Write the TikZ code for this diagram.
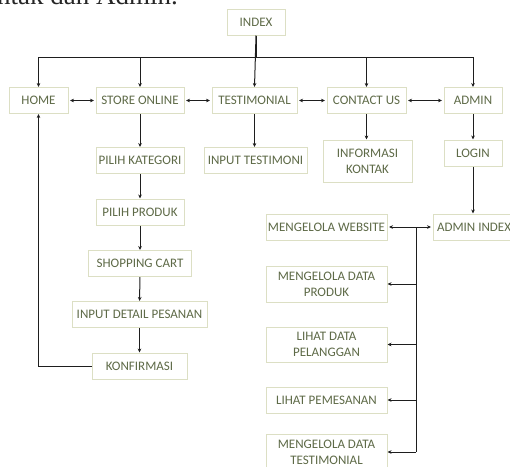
\documentclass[tikz,border=0pt]{standalone}
\usepackage{fontspec}
\setmainfont{Carlito}
\newfontfamily\bodyserif{Liberation Serif}
\usetikzlibrary{arrows.meta}
\definecolor{boxline}{HTML}{DCDFC4}
\definecolor{boxtext}{HTML}{5E6A47}
\definecolor{wire}{HTML}{1E1E1E}
\tikzset{
  box/.style={draw=boxline, line width=1pt, fill=white, text=boxtext,
    font=\fontsize{13}{16}\selectfont, inner sep=0pt, align=center,
    minimum height=26pt},
  link/.style={draw=wire, line width=1pt, -{Stealth[length=4pt,width=3.6pt]}},
  duo/.style={draw=wire, line width=1pt, {Stealth[length=4pt,width=3.6pt]}-{Stealth[length=4pt,width=3.6pt]},
    shorten <=1.5pt, shorten >=1.5pt},
  wireline/.style={draw=wire, line width=1pt}
}
\begin{document}
\begin{tikzpicture}[x=1pt,y=-1pt]
\useasboundingbox (0,0) rectangle (510,466);
\clip (0,0) rectangle (510,466);

% tail of the paragraph line above the chart
\node[anchor=base west, inner sep=0pt, text=black!85,
  font=\fontsize{27}{27}\selectfont\bodyserif] (para) at (-3,4) {ntak dan Admin.};

% top level
\node[box, minimum width=58pt] (index) at (256,22) {INDEX};

% main menu row
\node[box, minimum width=59pt] (home)    at (38.5,100.5)  {HOME};
\node[box, minimum width=88pt] (store)   at (140,100.5)   {STORE ONLINE};
\node[box, minimum width=85pt] (testi)   at (254.5,100.5) {TESTIMONIAL};
\node[box, minimum width=79pt] (contact) at (366.5,100.5) {CONTACT US};
\node[box, minimum width=58pt] (admin)   at (473,100.5)   {ADMIN};

% store flow
\node[box, minimum width=88pt]  (kategori) at (140,160.5) {PILIH KATEGORI};
\node[box, minimum width=88pt]  (produk)   at (140,212)   {PILIH PRODUK};
\node[box, minimum width=103pt] (cart)     at (140,263.5) {SHOPPING CART};
\node[box, minimum width=135pt] (detail)   at (139.5,314.5) {INPUT DETAIL PESANAN};
\node[box, minimum width=95pt]  (konfirm)  at (139.5,366) {KONFIRMASI};

% other branches
\node[box, minimum width=103pt] (inputtesti) at (255.5,160.5) {INPUT TESTIMONI};
\node[box, minimum width=89pt, minimum height=42pt] (info) at (367.5,161) {INFORMASI\\KONTAK};
\node[box, minimum width=58pt] (login) at (473,153) {LOGIN};

% admin area
\node[box, minimum width=82pt] (adminidx) at (474,227) {ADMIN INDEX};
\node[box, minimum width=121pt] (website) at (326.5,227) {MENGELOLA WEBSITE};
\node[box, minimum width=121pt, minimum height=36pt] (dataproduk) at (326.5,284) {MENGELOLA DATA\\PRODUK};
\node[box, minimum width=121pt, minimum height=35pt] (pelanggan) at (326.5,344.5) {LIHAT DATA\\PELANGGAN};
\node[box, minimum width=121pt] (pemesanan) at (326.5,400) {LIHAT PEMESANAN};
\node[box, minimum width=121pt, minimum height=36pt] (datatesti) at (326.5,452) {MENGELOLA DATA\\TESTIMONIAL};

% distribution bus from INDEX
\coordinate (bus) at (256,57);
\draw[wireline] (index.south) -- (bus);
\draw[wireline] (home.north |- bus) -- (admin.north |- bus);
\draw[link] (index.south) -- (testi.north);
\draw[link] (home.north |- bus) -- (home.north);
\draw[link] (store.north |- bus) -- (store.north);
\draw[link] (contact.north |- bus) -- (contact.north);
\draw[link] (admin.north |- bus) -- (admin.north);

% links along the menu row
\draw[duo] (home) -- (store);
\draw[duo] (store) -- (testi);
\draw[duo] (testi) -- (contact);
\draw[duo] (contact) -- (admin);

% downward flows
\draw[link] (store) -- (kategori);
\draw[link] (kategori) -- (produk);
\draw[link] (produk) -- (cart);
\draw[link] (cart) -- (detail);
\draw[link] (detail) -- (konfirm);
\draw[link] (testi.south) -- (testi.south |- inputtesti.north);
\draw[link] (contact.south) -- (contact.south |- info.north);
\draw[link] (admin) -- (login);
\draw[link] (login.south) -- (login.south |- adminidx.north);

% return to HOME
\draw[link] (konfirm.west) -| (home.south);

% admin index links
\draw[duo] (website) -- (adminidx);
\coordinate (spine) at (416,227);
\draw[wireline] (spine) -- (spine |- datatesti.east);
\draw[link] (spine |- dataproduk.east) -- (dataproduk.east);
\draw[link] (spine |- pelanggan.east) -- (pelanggan.east);
\draw[link] (spine |- pemesanan.east) -- (pemesanan.east);
\draw[link] (spine |- datatesti.east) -- (datatesti.east);
\end{tikzpicture}
\end{document}
